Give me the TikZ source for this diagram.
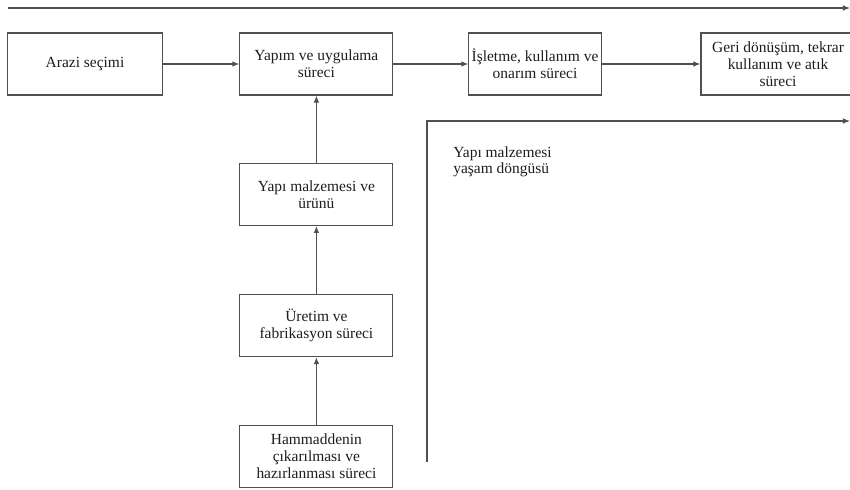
\documentclass[tikz,border=0pt]{standalone}
\usepackage{fontspec}
\setmainfont{Liberation Serif}
\usetikzlibrary{arrows.meta, positioning}
\definecolor{LineGray}{RGB}{80, 80, 80}
\definecolor{TextGray}{RGB}{30, 30, 30}

\begin{document}
\begin{tikzpicture}[
  every node/.style={font=\fontsize{11}{12}\selectfont, text=TextGray},
  stepbox/.style={draw=LineGray, thick, fill=white, align=center,
                  minimum height=1.55cm, inner sep=2pt},
  arr/.style={-{Latex[length=5pt, width=4pt]}, thick, draw=LineGray}
]
  \useasboundingbox (0,0) rectangle (21.25,-12.25);

  %% Row 1  (y = -1.6)
  \node[stepbox, minimum width=3.875cm] (arazi)   at (2.125, -1.6) {Arazi seçimi};
  \node[stepbox, minimum width=3.825cm] (yapim)   at (7.91,  -1.6) {Yapım ve uygulama\\süreci};
  \node[stepbox, minimum width=3.25cm]  (isletme) at (13.375,-1.6) {İşletme, kullanım ve\\onarım süreci};
  \node[stepbox, minimum width=3.85cm]  (geri)    at (19.45, -1.6) {Geri dönüşüm, tekrar\\kullanım ve atık\\süreci};

  %% Column  (x = 7.91)
  \node[stepbox, minimum width=3.825cm] (malzeme) at (7.91, -4.86)  {Yapı malzemesi ve\\ürünü};
  \node[stepbox, minimum width=3.825cm] (uretim)  at (7.91, -8.14)  {Üretim ve\\fabrikasyon süreci};
  \node[stepbox, minimum width=3.825cm] (ham)     at (7.91, -11.41) {Hammaddenin\\çıkarılması ve\\hazırlanması süreci};

  %% Label
  \node[anchor=north west, align=left, inner sep=0pt] (dongu) at (11.325,-3.65)
    {Yapı malzemesi\\yaşam döngüsü};

  %% Frame lines
  \coordinate (topL) at (0.2,-0.2);
  \coordinate (topR) at (21.25,-0.2);
  \coordinate (cycB) at (10.675,-11.55);
  \coordinate (cycC) at (10.675,-3.025);
  \coordinate (cycR) at (21.25,-3.025);
  \draw[arr] (topL) -- (topR);
  \draw[arr] (cycB) -- (cycC) -- (cycR);

  %% Arrows – Row 1
  \draw[arr] (arazi)   -- (yapim);
  \draw[arr] (yapim)   -- (isletme);
  \draw[arr] (isletme) -- (geri);

  %% Arrows – Column
  \draw[arr] (ham)     -- (uretim);
  \draw[arr] (uretim)  -- (malzeme);
  \draw[arr] (malzeme) -- (yapim);
\end{tikzpicture}
\end{document}
